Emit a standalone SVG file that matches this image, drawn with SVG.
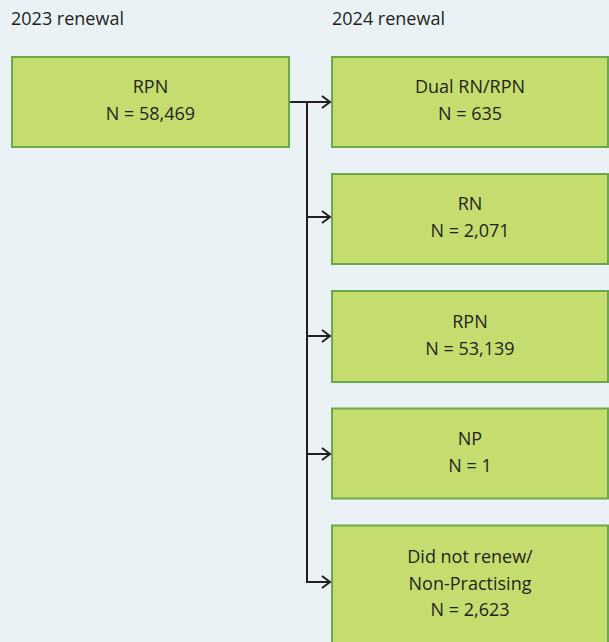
<svg xmlns="http://www.w3.org/2000/svg" width="609" height="642" viewBox="0 0 609 642">
<style>
.bg{fill:#eaf2f5}
.box{fill:#c5dd6f;stroke:#6aa84a;stroke-width:2}
text{font-family:"Open Sans","Noto Sans",sans-serif;font-size:18px;fill:#231f20}
.c{text-anchor:middle}
.ln{fill:none;stroke:#231f20;stroke-width:2}
</style>
<defs>
<marker id="arr" markerWidth="12" markerHeight="14" refX="10" refY="7" orient="auto" markerUnits="userSpaceOnUse">
<path d="M2,1 L10,7 L2,13" fill="none" stroke="#231f20" stroke-width="2"/>
</marker>
</defs>
<rect class="bg" x="0" y="0" width="609" height="642"/>
<text x="11" y="25">2023 renewal</text>
<text x="332" y="25">2024 renewal</text>
<g id="n-rpn2023">
<rect class="box" x="12" y="57" width="277" height="90"/>
<text class="c" x="150.5" y="93">RPN</text>
<text class="c" x="150.5" y="120">N = 58,469</text>
</g>
<g id="n-dual">
<rect class="box" x="332" y="57" width="276" height="90"/>
<text class="c" x="470" y="93">Dual RN/RPN</text>
<text class="c" x="470" y="120">N = 635</text>
</g>
<g id="n-rn">
<rect class="box" x="332" y="174" width="276" height="90"/>
<text class="c" x="470" y="210">RN</text>
<text class="c" x="470" y="237">N = 2,071</text>
</g>
<g id="n-rpn2024">
<rect class="box" x="332" y="291" width="276" height="91"/>
<text class="c" x="470" y="328">RPN</text>
<text class="c" x="470" y="355">N = 53,139</text>
</g>
<g id="n-np">
<rect class="box" x="332" y="408.5" width="276" height="90"/>
<text class="c" x="470" y="445">NP</text>
<text class="c" x="470" y="472">N = 1</text>
</g>
<g id="n-notrenew">
<rect class="box" x="332" y="525.5" width="276" height="130"/>
<text class="c" x="470" y="563">Did not renew/</text>
<text class="c" x="470" y="590">Non-Practising</text>
<text class="c" x="470" y="616">N = 2,623</text>
</g>
<g id="connectors">
<path class="ln" d="M290,102 H330" marker-end="url(#arr)"/>
<path class="ln" d="M307,102 V582"/>
<path class="ln" d="M307,217 H330" marker-end="url(#arr)"/>
<path class="ln" d="M307,336 H330" marker-end="url(#arr)"/>
<path class="ln" d="M307,454 H330" marker-end="url(#arr)"/>
<path class="ln" d="M306,582 H330" marker-end="url(#arr)"/>
</g>
</svg>
